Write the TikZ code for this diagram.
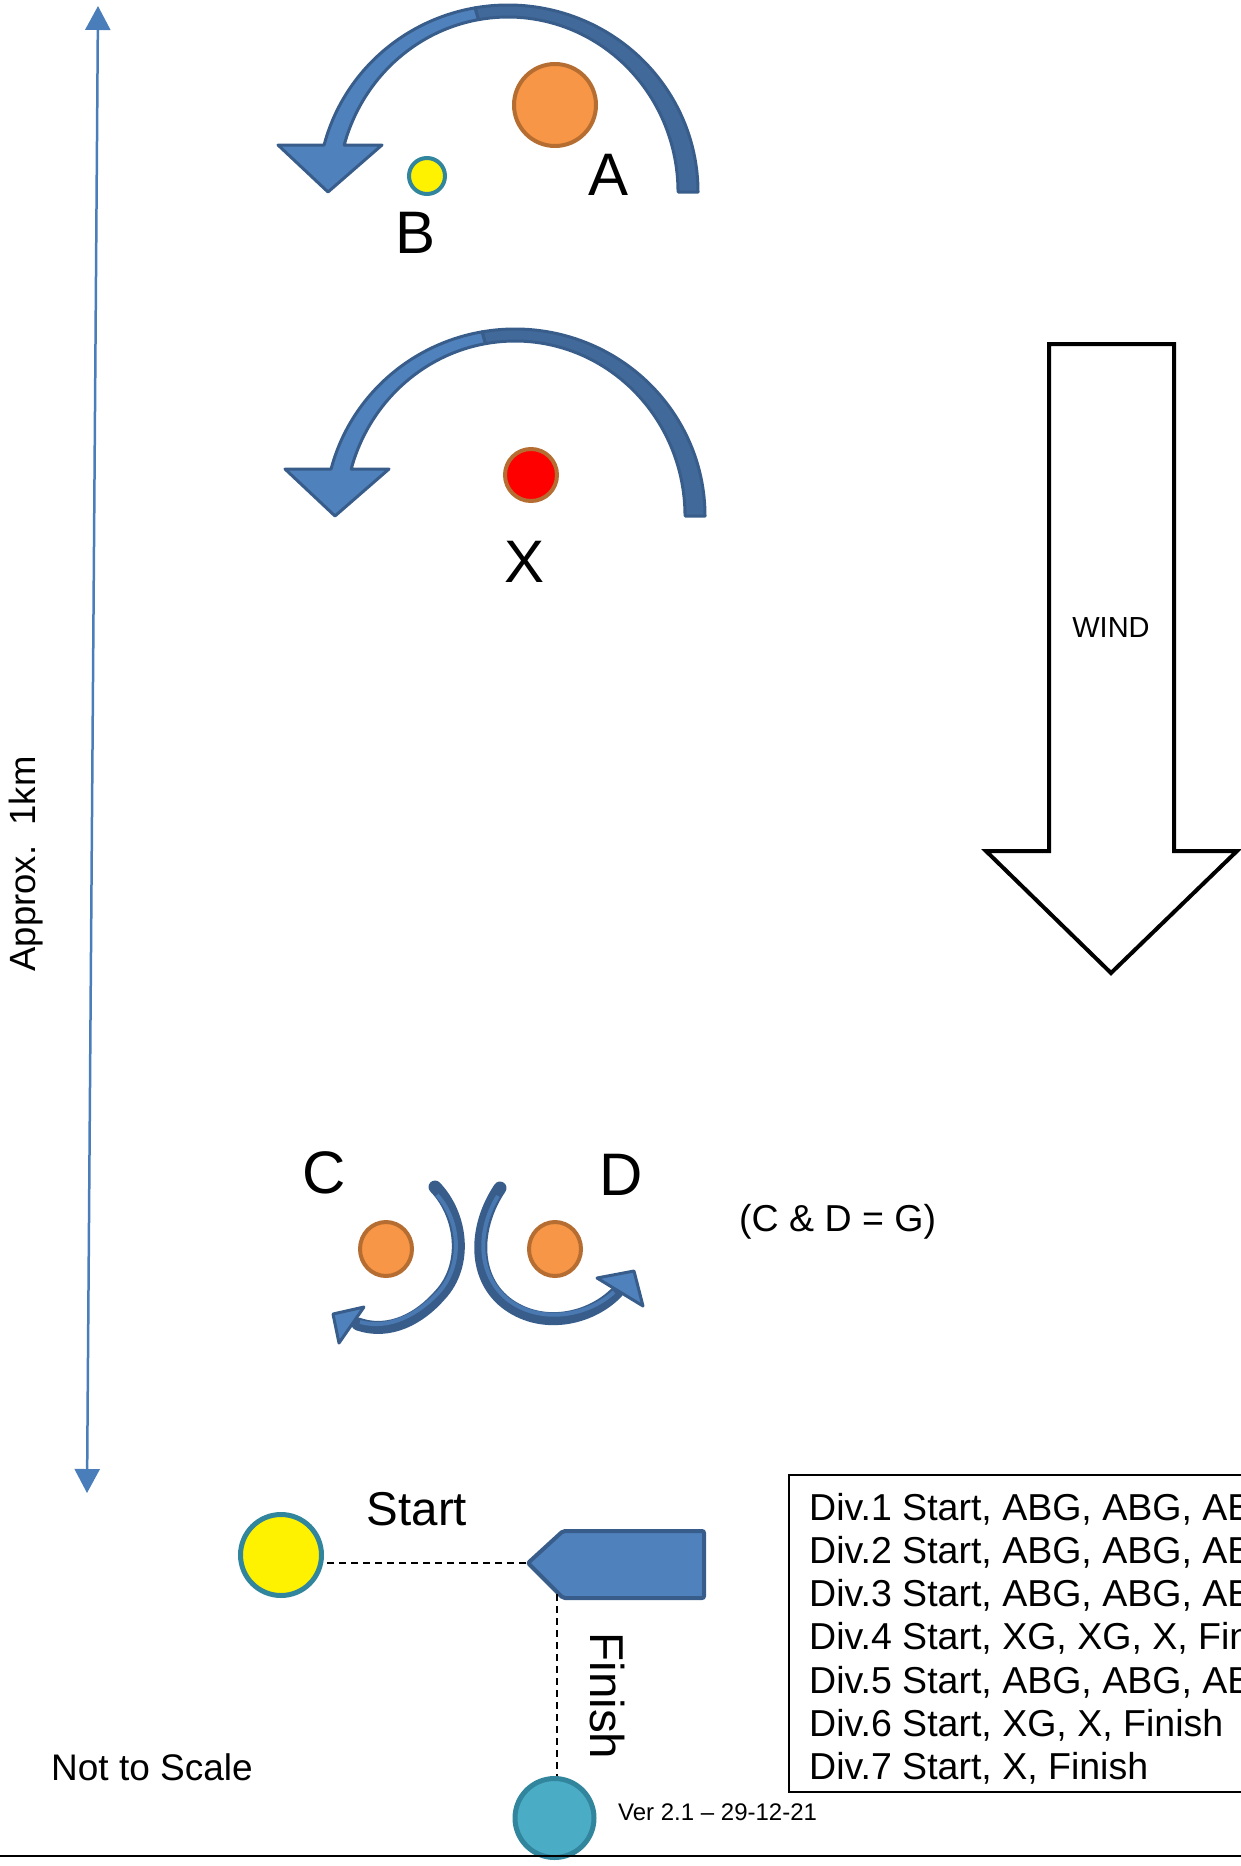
\documentclass[tikz,border=0pt]{standalone}
\usepackage{fontspec}
\setmainfont{Liberation Sans}
\usetikzlibrary{arrows.meta,shapes.geometric}
\definecolor{bluefill}{HTML}{4F81BD}
\definecolor{bluestroke}{HTML}{385D8A}
\definecolor{bluedark}{HTML}{41699A}
\definecolor{bluemid}{HTML}{4A78B0}
\definecolor{orangefill}{HTML}{F79646}
\definecolor{orangestroke}{HTML}{B66D31}
\definecolor{tealstroke}{HTML}{31859C}
\definecolor{tealfill}{HTML}{4BACC6}
\definecolor{linkblue}{HTML}{4A7EBB}
\newcommand\fsz[1]{\fontsize{#1}{#1}\selectfont}
\newcommand\courseturn[1]{%
  \begin{scope}[shift={#1}]
    \draw[fill=bluedark, draw=bluestroke, line width=3pt, line join=round]
      (698,192) arc[start angle=0, end angle=-100, x radius=190, y radius=187]
      -- (478.5,19.66) arc[start angle=-100, end angle=0, x radius=170, y radius=175] -- cycle;
    \draw[fill=bluefill, draw=bluestroke, line width=3pt, line join=round]
      (475,7.84) arc[start angle=-100, end angle=-165.45, x radius=190, y radius=187]
      -- (278,145) -- (328,192) -- (382,145) -- (344.2,145)
      arc[start angle=-164.42, end angle=-100, x radius=170, y radius=175] -- cycle;
  \end{scope}}
\begin{document}
\begin{tikzpicture}[x=1pt,y=-1pt,
  lbl/.style={inner sep=0pt, font=\fsz{60}},
  buoy/.style={circle, inner sep=0pt, line width=4pt},
  smallbuoy/.style={ellipse, inner sep=0pt, line width=4pt, fill=orangefill, draw=orangestroke, minimum width=52pt, minimum height=54pt},
  dashline/.style={dash pattern=on 7pt off 5pt, line width=1.8pt},
  ribbon/.style={line width=13pt, bluestroke, line cap=round},
  ribbonhi/.style={line width=4pt, bluemid},
  headtri/.style={fill=bluefill, draw=bluestroke, line width=3pt, line join=round},
  tabletext/.style={anchor=base west, inner sep=0pt, font=\fsz{37.5}}]
\useasboundingbox (0,0) rectangle (1241,1866);

% scale arrow
\coordinate (scaletop) at (98,6);
\coordinate (scalebot) at (87,1493);
\draw[linkblue, line width=2.5pt, {Triangle[width=25pt,length=24pt]}-{Triangle[width=25pt,length=24pt]}] (scaletop) -- (scalebot);
\node[rotate=90, inner sep=0pt, font=\fsz{36.5}] (approx) at (26,864) {Approx.~~1km};

% top rounding A/B
\courseturn{(0,0)}
\node[buoy, fill=orangefill, draw=orangestroke, minimum size=82pt] (A) at (555,105) {};
\node[buoy, fill=yellow, draw=tealstroke, minimum size=36pt] (B) at (427,176) {};
\node[lbl] (labA) at (609,175) {A};
\node[lbl] (labB) at (416,233) {B};

% X rounding
\courseturn{(7,324)}
\node[buoy, fill=red, draw=orangestroke, minimum size=52pt] (X) at (531,475) {};
\node[lbl] (labX) at (525,562) {X};

% wind arrow
\draw[line width=4pt, fill=white] (1049,344) -- (1174,344) -- (1174,851) -- (1237,851) -- (1111,973) -- (986,851) -- (1049,851) -- cycle;
\node[inner sep=0pt, font=\fsz{29}] (wind) at (1111,628) {WIND};

% C and D gate
\node[smallbuoy] (C) at (386,1249) {};
\node[smallbuoy] (D) at (555,1249) {};
\node[lbl] (labC) at (324,1173) {C};
\node[lbl] (labD) at (621,1175) {D};
\node[anchor=base west, inner sep=0pt, font=\fsz{37.5}] (gate) at (739,1231) {(C \& D = G)};
\draw[ribbon] (435,1187) .. controls (462,1215) and (468,1265) .. (440,1295) .. controls (420,1318) and (390,1335) .. (358,1324);
\draw[ribbonhi] (437,1195) .. controls (460,1220) and (464,1265) .. (438,1293) .. controls (418,1314) and (390,1330) .. (360,1322);
\draw[headtri] (333,1314) -- (364,1307) -- (339,1343) -- cycle;
\draw[ribbon] (500,1188) .. controls (475,1225) and (472,1275) .. (505,1302) .. controls (540,1330) and (590,1320) .. (617,1292);
\draw[ribbonhi] (498,1196) .. controls (478,1228) and (476,1273) .. (507,1299) .. controls (540,1325) and (588,1316) .. (614,1292);
\draw[headtri] (634,1271) -- (597,1278) -- (643,1306) -- cycle;

% start / finish
\node[buoy, fill=yellow, draw=tealstroke, line width=5pt, minimum size=81pt] (startbuoy) at (281,1555) {};
\node[buoy, fill=tealfill, draw=tealstroke, line width=5pt, minimum size=79pt] (finishbuoy) at (554.5,1818) {};
\draw[fill=bluefill, draw=bluestroke, line width=4pt, rounded corners=2pt] (528,1563) -- (563,1531) -- (704,1531) -- (704,1598) -- (563,1598) -- cycle;
\coordinate (boattip) at (526,1563);
\coordinate (boatcorner) at (557,1594);
\draw[dashline] (boattip) -- (boattip -| startbuoy.east);
\draw[dashline] (boatcorner) -- (boatcorner |- finishbuoy.north);
\node[inner sep=0pt, font=\fsz{47.5}] (startlab) at (417,1509) {Start};
\node[rotate=-90, inner sep=0pt, font=\fsz{47.5}] (finishlab) at (607,1696) {Finish};
\node[anchor=base west, inner sep=0pt, font=\fsz{37}] (noscale) at (51,1780) {Not to Scale};
\node[anchor=base west, inner sep=0pt, font=\fsz{24}] (ver) at (618,1820) {Ver 2.1 -- 29-12-21};

% table
\begin{scope}
\clip (0,0) rectangle (1241,1866);
\draw[line width=2pt] (789,1475) rectangle (1300,1792);
\node[tabletext] (div1) at (809,1520) {Div.1 Start, ABG, ABG, ABG};
\node[tabletext] (div2) at (809,1563.3) {Div.2 Start, ABG, ABG, ABG};
\node[tabletext] (div3) at (809,1606.6) {Div.3 Start, ABG, ABG, ABG};
\node[tabletext] (div4) at (809,1649.9) {Div.4 Start, XG, XG, X, Finish};
\node[tabletext] (div5) at (809,1693.2) {Div.5 Start, ABG, ABG, ABG};
\node[tabletext] (div6) at (809,1736.5) {Div.6 Start, XG, X, Finish};
\node[tabletext] (div7) at (809,1779.8) {Div.7 Start, X, Finish};
\end{scope}

% bottom rule
\coordinate (ruleL) at (0,1856);
\coordinate (ruleR) at (1241,1856);
\draw[line width=2.5pt] (ruleL) -- (ruleR);
\end{tikzpicture}
\end{document}
